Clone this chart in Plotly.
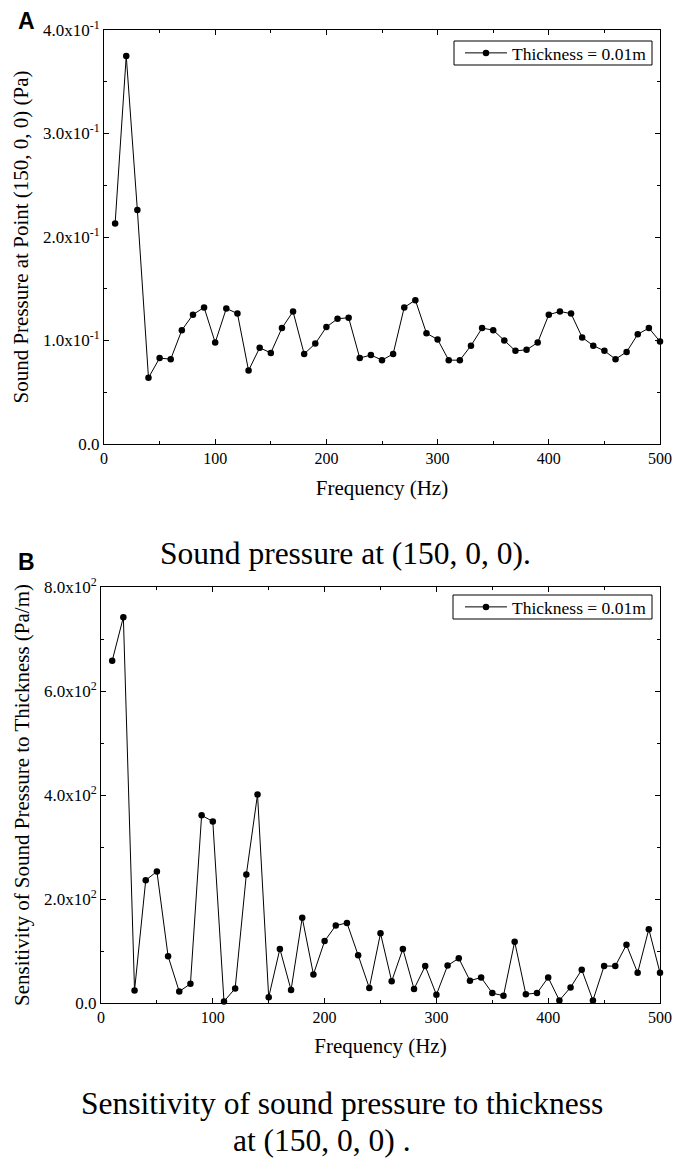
import plotly.graph_objects as go

# ---------------- data ----------------
freq_hz = [10, 20, 30, 40, 50, 60, 70, 80, 90, 100,
           110, 120, 130, 140, 150, 160, 170, 180, 190, 200,
           210, 220, 230, 240, 250, 260, 270, 280, 290, 300,
           310, 320, 330, 340, 350, 360, 370, 380, 390, 400,
           410, 420, 430, 440, 450, 460, 470, 480, 490, 500]

pressure_pa = [0.213, 0.375, 0.226, 0.064, 0.083, 0.082, 0.110, 0.125, 0.132, 0.098,
               0.131, 0.126, 0.071, 0.093, 0.088, 0.112, 0.128, 0.087, 0.097, 0.113,
               0.121, 0.122, 0.083, 0.086, 0.081, 0.087, 0.132, 0.139, 0.107, 0.101,
               0.081, 0.081, 0.095, 0.112, 0.110, 0.100, 0.090, 0.091, 0.098, 0.125,
               0.128, 0.126, 0.103, 0.095, 0.090, 0.082, 0.089, 0.106, 0.112, 0.099]

sensitivity_pa_m = [658, 742, 24, 236, 253, 90, 22, 37, 361, 349,
                    3, 28, 247, 401, 11, 104, 25, 164, 55, 119,
                    149, 154, 92, 29, 134, 42, 104, 27, 71, 16,
                    72, 86, 43, 49, 19, 14, 118, 17, 19, 49,
                    5, 30, 64, 5, 71, 71, 112, 58, 142, 58]

series_name = "Thickness = 0.01m"

x_tickvals = [0, 100, 200, 300, 400, 500]
x_ticktext = ["0", "100", "200", "300", "400", "500"]

ya_tickvals = [0.0, 0.1, 0.2, 0.3, 0.4]
ya_ticktext = ["0.0", "1.0x10<sup>-1</sup>", "2.0x10<sup>-1</sup>",
               "3.0x10<sup>-1</sup>", "4.0x10<sup>-1</sup>"]

yb_tickvals = [0, 200, 400, 600, 800]
yb_ticktext = ["0.0", "2.0x10<sup>2</sup>", "4.0x10<sup>2</sup>",
               "6.0x10<sup>2</sup>", "8.0x10<sup>2</sup>"]

title_x = "Frequency (Hz)"
title_ya = "Sound Pressure at Point (150, 0, 0) (Pa)"
title_yb = "Sensitivity of Sound Pressure to Thickness (Pa/m)"
caption_a = "Sound pressure at (150, 0, 0)."
caption_b_line1 = "Sensitivity of sound pressure to thickness"
caption_b_line2 = "at (150, 0, 0) ."

# ---------------- layout helpers ----------------
W, H = 673, 1160
SERIF = "Liberation Serif"
SANS = "Liberation Sans"


def px_x(p):
    return p / W


def px_y(p):
    return 1 - p / H


line_style = dict(color="black", width=1)
marker_style = dict(color="black", size=6.5, symbol="circle")

fig = go.Figure()
fig.add_trace(go.Scatter(x=freq_hz, y=pressure_pa, mode="lines+markers",
                         name=series_name, line=line_style, marker=marker_style,
                         cliponaxis=False, xaxis="x", yaxis="y", legend="legend",
                         showlegend=True))
fig.add_trace(go.Scatter(x=freq_hz, y=sensitivity_pa_m, mode="lines+markers",
                         name=series_name, line=line_style, marker=marker_style,
                         cliponaxis=False, xaxis="x2", yaxis="y2", legend="legend2",
                         showlegend=True))

common_axis = dict(
    showline=True, linecolor="black", linewidth=1, mirror="allticks",
    ticks="inside", ticklen=5, tickcolor="black", tickwidth=1,
    showgrid=False, zeroline=False, automargin=False,
    tickfont=dict(family=SERIF, size=16, color="black"),
)

xaxis_common = dict(common_axis, range=[0, 500], tickvals=x_tickvals, ticktext=x_ticktext,
                    minor=dict(ticks="inside", ticklen=3, dtick=50, tickcolor="black", showgrid=False))

legend_common = dict(xanchor="right", yanchor="middle",
                     borderwidth=0, bgcolor="rgba(0,0,0,0)",
                     font=dict(family=SERIF, size=17.5, color="black"),
                     itemwidth=42, tracegroupgap=0, visible=True)


def note(text, x, y, size, family=SERIF):
    return dict(text=text, x=px_x(x), y=px_y(y), xref="paper", yref="paper",
                xanchor="center", yanchor="middle", showarrow=False,
                font=dict(family=family, size=size, color="black"))


def legend_frame(x0, x1, y0, y1):
    return dict(type="rect", xref="paper", yref="paper",
                x0=px_x(x0), x1=px_x(x1), y0=px_y(y1), y1=px_y(y0),
                line=dict(color="black", width=1), fillcolor="white", layer="above")


fig.update_layout(
    width=W, height=H,
    margin=dict(l=0, r=0, t=0, b=0, pad=0),
    paper_bgcolor="white", plot_bgcolor="white",
    font=dict(family=SERIF, size=16, color="black"),
    showlegend=True,
    xaxis=dict(xaxis_common, domain=[px_x(104), px_x(660)], anchor="y",
               title=dict(text=title_x, font=dict(family=SERIF, size=21, color="black"), standoff=14)),
    yaxis=dict(common_axis, domain=[px_y(444), px_y(30)], anchor="x", range=[0, 0.4],
               tickvals=ya_tickvals, ticktext=ya_ticktext,
               tickfont=dict(family=SERIF, size=17, color="black"),
               minor=dict(ticks="inside", ticklen=3, dtick=0.05, tickcolor="black", showgrid=False),
               title=dict(text=title_ya, font=dict(family=SERIF, size=21, color="black"), standoff=8)),
    xaxis2=dict(xaxis_common, domain=[px_x(101), px_x(660)], anchor="y2",
                title=dict(text=title_x, font=dict(family=SERIF, size=21, color="black"), standoff=13)),
    yaxis2=dict(common_axis, domain=[px_y(1003), px_y(587)], anchor="x2", range=[0, 800],
                tickvals=yb_tickvals, ticktext=yb_ticktext,
                tickfont=dict(family=SERIF, size=17, color="black"),
                minor=dict(ticks="inside", ticklen=3, dtick=100, tickcolor="black", showgrid=False),
                title=dict(text=title_yb, font=dict(family=SERIF, size=21, color="black"), standoff=8)),
    legend=dict(legend_common, x=px_x(652), y=px_y(53)),
    legend2=dict(legend_common, x=px_x(652), y=px_y(607)),
    shapes=[
        legend_frame(454, 652, 41, 65),
        legend_frame(453, 652, 595, 619),
    ],
    annotations=[
        note("<b>A</b>", 26, 21, 23, SANS),
        note("<b>B</b>", 26, 562, 23, SANS),
        note(caption_a, 346, 553, 31.5),
        note(caption_b_line1, 342, 1103, 31.5),
        note(caption_b_line2, 322, 1140, 31.5),
    ],
)

fig.write_html("out.html", config={"displayModeBar": False},
               post_script="document.body.style.margin='0px';")
